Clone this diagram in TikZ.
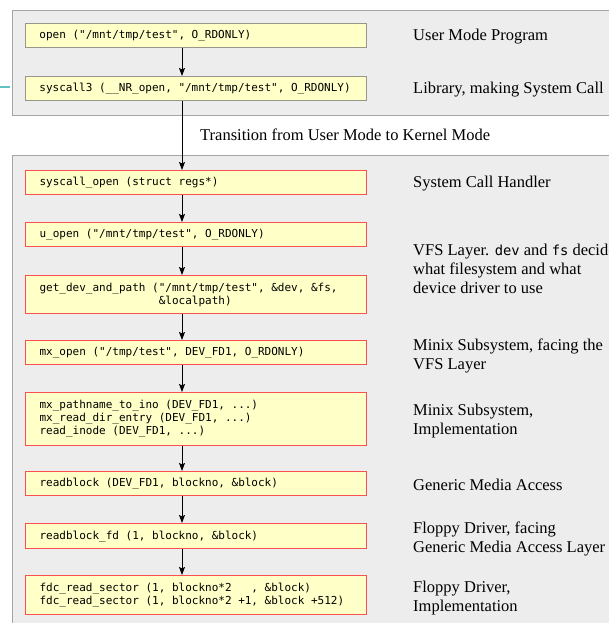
\documentclass[tikz,border=0pt]{standalone}
\usepackage{fontspec}
\setmainfont{Liberation Serif}
\setmonofont{DejaVu Sans Mono}
\usetikzlibrary{arrows.meta}
\definecolor{codeyellow}{RGB}{255,255,200}
\definecolor{layergray}{RGB}{237,237,237}
\definecolor{layerborder}{RGB}{165,165,165}
\definecolor{userborder}{RGB}{150,150,140}
\definecolor{kernred}{RGB}{250,80,80}
\definecolor{tealish}{RGB}{95,195,195}
\newcommand\monofnt{\fontsize{11}{13}\selectfont\ttfamily}
\newcommand\tsp{\hspace*{6.62pt}}
\begin{document}
\begin{tikzpicture}[x=1pt,y=-1pt,
  layer/.style={draw=layerborder, fill=layergray, line width=0.9pt},
  code/.style={fill=codeyellow, anchor=north west, minimum width=341pt,
    text width=313pt, inner xsep=14pt, inner ysep=0pt, align=left,
    font=\monofnt},
  userbox/.style={code, draw=userborder, line width=0.9pt},
  kernbox/.style={code, draw=kernred, line width=1.2pt},
  lbl/.style={anchor=west, align=left, inner sep=0pt,
    font=\fontsize{16.5}{19}\selectfont},
  arr/.style={draw=black, line width=0.9pt, -{Stealth[length=8pt,width=6pt,inset=1.5pt]}}
]
\useasboundingbox (0,0) rectangle (609,623);
\clip (0,0) rectangle (609,623);
\fill[white] (0,0) rectangle (609,623);
\draw[layer] (12,10) rectangle (640,115);
\draw[layer] (12,155) rectangle (640,660);
\draw[tealish, line width=1.5pt] (0,87) -- (10,87);
\coordinate (ax) at (182,0);

\node[userbox, minimum height=24pt] (n1) at (25,23) {open\tsp("/mnt/tmp/test",\tsp O\_RDONLY)};
\node[userbox, minimum height=24pt] (n2) at (25,76) {syscall3\tsp(\_\_NR\_open,\tsp"/mnt/tmp/test",\tsp O\_RDONLY)};

\node[kernbox, minimum height=24pt] (k1) at (25,170) {syscall\_open\tsp(struct\tsp regs*)};
\node[kernbox, minimum height=24pt] (k2) at (25,222) {u\_open\tsp("/mnt/tmp/test",\tsp O\_RDONLY)};
\node[kernbox, minimum height=38pt] (k3) at (25,275) {get\_dev\_and\_path\tsp("/mnt/tmp/test",\tsp\&dev,\tsp\&fs,\\
\hphantom{get\_dev\_and\_path\_(}\&localpath)};
\node[kernbox, minimum height=24pt] (k4) at (25,340) {mx\_open\tsp("/tmp/test",\tsp DEV\_FD1,\tsp O\_RDONLY)};
\node[kernbox, minimum height=53pt] (k5) at (25,392) {mx\_pathname\_to\_ino\tsp(DEV\_FD1,\tsp...)\\
mx\_read\_dir\_entry\tsp(DEV\_FD1,\tsp...)\\
read\_inode\tsp(DEV\_FD1,\tsp...)};
\node[kernbox, minimum height=24pt] (k6) at (25,471) {readblock\tsp(DEV\_FD1,\tsp blockno,\tsp\&block)};
\node[kernbox, minimum height=25pt] (k7) at (25,523) {readblock\_fd\tsp(1,\tsp blockno,\tsp\&block)};
\node[kernbox, minimum height=39pt] (k8) at (25,575) {fdc\_read\_sector\tsp(1,\tsp blockno*2\tsp\tsp\tsp,\tsp\&block)\\
fdc\_read\_sector\tsp(1,\tsp blockno*2\tsp+1,\tsp\&block\tsp+512)};

\draw[arr] (n1.south -| ax) -- (n2.north -| ax);
\draw[arr] (n2.south -| ax) -- (k1.north -| ax);
\draw[arr] (k1.south -| ax) -- (k2.north -| ax);
\draw[arr] (k2.south -| ax) -- (k3.north -| ax);
\draw[arr] (k3.south -| ax) -- (k4.north -| ax);
\draw[arr] (k4.south -| ax) -- (k5.north -| ax);
\draw[arr] (k5.south -| ax) -- (k6.north -| ax);
\draw[arr] (k6.south -| ax) -- (k7.north -| ax);
\draw[arr] (k7.south -| ax) -- (k8.north -| ax);

\node[lbl] (l1) at (413,37) {User Mode Program};
\node[lbl] (l2) at (413,90) {Library, making System Call};
\node[lbl] (tr) at (200,135) {Transition from User Mode to Kernel Mode};
\node[lbl] (l3) at (413,184) {System Call Handler};
\node[lbl] (l4) at (413,269) {VFS Layer. {\fontsize{13.8}{19}\selectfont\ttfamily dev} and {\fontsize{13.8}{19}\selectfont\ttfamily fs} decide\\what filesystem and what\\device driver to use};
\node[lbl] (l5) at (413,356) {Minix Subsystem, facing the\\VFS Layer};
\node[lbl] (l6) at (413,421) {Minix Subsystem,\\Implementation};
\node[lbl] (l7) at (413,485) {Generic Media Access};
\node[lbl] (l8) at (413,539) {Floppy Driver, facing\\Generic Media Access Layer};
\node[lbl] (l9) at (413,598) {Floppy Driver,\\Implementation};
\end{tikzpicture}
\end{document}
